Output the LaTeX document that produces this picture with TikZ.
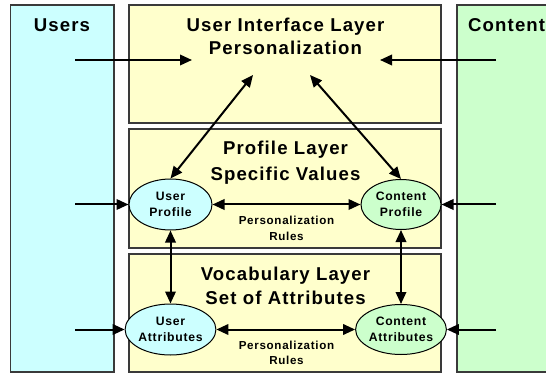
\documentclass[tikz,border=0pt]{standalone}
\usepackage{fontspec}
\setmainfont{Liberation Sans}
\newfontfamily\labfont[LetterSpace=6]{Liberation Sans}
\usetikzlibrary{arrows.meta,shapes.geometric}
\definecolor{usercol}{HTML}{CCFFFF}
\definecolor{layercol}{HTML}{FFFFCC}
\definecolor{contentcol}{HTML}{CCFFCC}
\definecolor{edgecol}{HTML}{3A3A3A}
\begin{document}
\begin{tikzpicture}[x=1pt,y=-1pt,
  panel/.style={draw=edgecol, line width=1.3pt},
  title/.style={font=\labfont\bfseries\fontsize{18.6}{22}\selectfont, anchor=base, inner sep=0pt},
  entity/.style={ellipse, draw=black, line width=1pt, inner sep=0pt, align=center,
    font=\labfont\bfseries\fontsize{12.2}{16}\selectfont},
  userent/.style={entity, fill=usercol, minimum width=83pt, minimum height=51pt},
  content/.style={entity, fill=contentcol, minimum width=80pt, minimum height=50pt},
  rulenote/.style={align=center, inner sep=0pt, font=\labfont\bfseries\fontsize{11.6}{15.5}\selectfont},
  flow/.style={line width=2pt, -{Triangle[length=12pt,width=10.5pt]}},
  twoway/.style={line width=2pt, {Triangle[length=12pt,width=10.5pt]}-{Triangle[length=12pt,width=10.5pt]}}
]
\useasboundingbox (0,0) rectangle (546,374);

% side columns
\draw[panel, fill=usercol] (10.5,5) rectangle (114,372);
\fill[contentcol] (457,5) rectangle (546,372);
\draw[panel] (547,5) -- (457,5) -- (457,372) -- (547,372);

% layers
\draw[panel, fill=layercol] (129,5) rectangle (441,123);
\draw[panel, fill=layercol] (129,129) rectangle (441,248);
\draw[panel, fill=layercol] (129,254) rectangle (441,372);

% headings
\node[title] (users) at (62,32) {Users};
\node[title, anchor=base west] (content) at (468,32) {Content};
\node[title] (ui1) at (285.5,32) {User Interface Layer};
\node[title] (ui2) at (285.5,55) {Personalization};
\node[title] (pl1) at (285.5,155) {Profile Layer};
\node[title] (pl2) at (285.5,180.5) {Specific Values};
\node[title] (vl1) at (285.5,280) {Vocabulary Layer};
\node[title] (vl2) at (285.5,304) {Set of Attributes};

% entities
\node[userent] (up) at (170.5,204.5) {User\\Profile};
\node[userent] (ua) at (170.5,329.5) {User\\Attributes};
\node[content] (cp) at (401,204.5) {Content\\Profile};
\node[content] (ca) at (401,329.5) {Content\\Attributes};

\node[rulenote] (r1) at (286.5,228.5) {Personalization\\Rules};
\node[rulenote] (r2) at (286.5,353) {Personalization\\Rules};

% connector ends
\coordinate (uin) at (75,60);
\coordinate (uiL) at (192,60);
\coordinate (cin) at (496,60);
\coordinate (uiR) at (380,60);
\coordinate (uiA) at (253,75);
\coordinate (uiB) at (310,75);
\coordinate (upin) at (75,204.5);
\coordinate (cpin) at (496,204.5);
\coordinate (uain) at (75,329.5);
\coordinate (cain) at (496,329.5);

% connectors
\draw[flow] (uin) -- (uiL);
\draw[flow] (cin) -- (uiR);
\draw[twoway] (uiA) -- (up.north);
\draw[twoway] (uiB) -- (cp.north);
\draw[flow] (upin) -- (up.west);
\draw[flow] (cpin) -- (cp.east);
\draw[flow] (uain) -- (ua.west);
\draw[flow] (cain) -- (ca.east);
\draw[twoway] (up.east) -- (cp.west);
\draw[twoway] (ua.east) -- (ca.west);
\draw[twoway] (up.south) -- (ua.north);
\draw[twoway] (cp.south) -- (ca.north);
\end{tikzpicture}
\end{document}
